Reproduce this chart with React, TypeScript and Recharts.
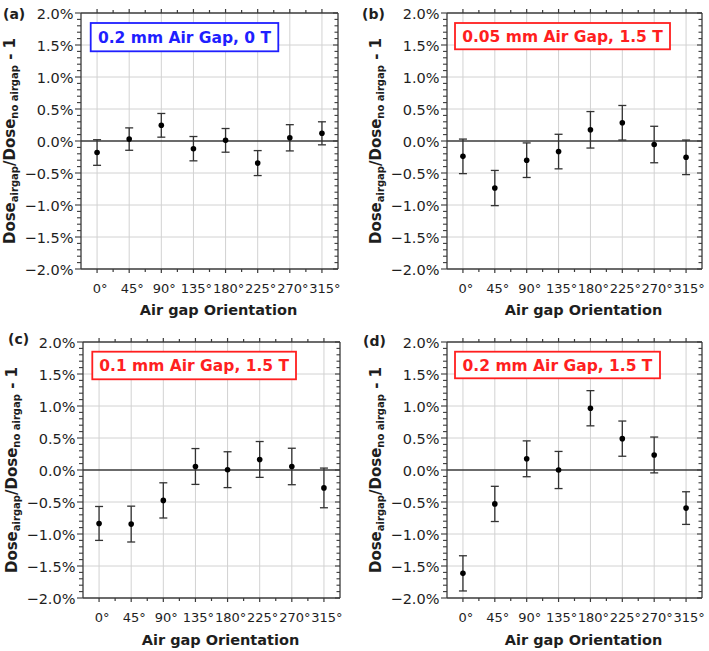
import React from 'react';
import { ComposedChart, XAxis, YAxis, Line, ErrorBar, ReferenceLine } from 'recharts';

// ---------- data ----------
const angles = [0, 45, 90, 135, 180, 225, 270, 315];
const yMajorTicks = [-2, -1.5, -1, -0.5, 0, 0.5, 1, 1.5, 2];

const valuesA = [-0.18, 0.03, 0.245, -0.12, 0.01, -0.345, 0.05, 0.12];
const errorsA = [0.2, 0.175, 0.185, 0.19, 0.185, 0.195, 0.205, 0.18];

const valuesB = [-0.24, -0.735, -0.3, -0.165, 0.175, 0.285, -0.055, -0.255];
const errorsB = [0.27, 0.275, 0.27, 0.27, 0.285, 0.27, 0.285, 0.27];

const valuesC = [-0.835, -0.845, -0.475, 0.055, 0.005, 0.165, 0.055, -0.28];
const errorsC = [0.265, 0.28, 0.275, 0.28, 0.28, 0.28, 0.285, 0.31];

const valuesD = [-1.615, -0.53, 0.175, 0.0, 0.965, 0.49, 0.235, -0.595];
const errorsD = [0.275, 0.275, 0.28, 0.29, 0.275, 0.275, 0.28, 0.255];

const boxTexts = ['0.2 mm Air Gap, 0 T', '0.05 mm Air Gap, 1.5 T', '0.1 mm Air Gap, 1.5 T', '0.2 mm Air Gap, 1.5 T'];
const panelLabels = ['(a)', '(b)', '(c)', '(d)'];
const xTitle = 'Air gap Orientation';

// ---------- style ----------
const FONT = '"DejaVu Sans", Verdana, sans-serif';
const AX = '#3a3a3a';
const GRID = '#d2d2d2';
const TXT = '#1e1e1e';
const BLUE = '#1f1fff';
const RED = '#ff1f1f';

const xMinor = angles.slice(1).map((a) => a - 22.5);
const xTicks = [...angles, ...xMinor].sort((a, b) => a - b);
const yTicks = Array.from({ length: 41 }, (_, i) => (i - 20) / 10);
const isMajorY = (v: number) => Math.abs(v * 2 - Math.round(v * 2)) < 1e-9;
const fmtY = (v: number) => (v < 0 ? '\u2212' : '') + Math.abs(v).toFixed(1) + '%';

const BottomTick = (p: any) => {
  const { x, y, payload } = p;
  const v = payload.value;
  const major = v % 45 === 0;
  return (
    <g>
      <line x1={x} x2={x} y1={y} y2={y + (major ? 4 : 3)} stroke={AX} strokeWidth={1.2} />
      {major && (
        <text x={x + 3} y={y + 23.5} textAnchor="middle" fontSize={13} fontFamily={FONT} fill={TXT}>
          {v}°
        </text>
      )}
    </g>
  );
};

const TopTick = (p: any) => {
  const { x, y, payload } = p;
  const major = payload.value % 45 === 0;
  return <line x1={x} x2={x} y1={y} y2={y - (major ? 4 : 3)} stroke={AX} strokeWidth={1.2} />;
};

const LeftTick = (p: any) => {
  const { x, y, payload } = p;
  const v = payload.value;
  const major = isMajorY(v);
  return (
    <g>
      <line x1={x} x2={x - (major ? 6 : 4)} y1={y} y2={y} stroke={AX} strokeWidth={1.1} />
      {major && (
        <text x={x - 7.5} y={y + 5.5} textAnchor="end" fontSize={14.5} fontFamily={FONT} fill={TXT}>
          {fmtY(v)}
        </text>
      )}
    </g>
  );
};

const RightTick = (p: any) => {
  const { x, y, payload } = p;
  const major = isMajorY(payload.value);
  return <line x1={x} x2={x - (major ? 5 : 3.5)} y1={y} y2={y} stroke={AX} strokeWidth={1.1} />;
};

type PanelCfg = {
  L: number; T: number; R: number; B: number;
  values: number[]; errors: number[];
  color: string; box: [number, number, number, number];
  labelX: number; labelY: number; titleY: number;
};

const panels: PanelCfg[] = [
  { L: 81, T: 13, R: 338, B: 269, values: valuesA, errors: errorsA, color: BLUE, box: [90.7, 23, 278.3, 51.3], labelX: 3, labelY: 18.5, titleY: 314.5 },
  { L: 447, T: 13, R: 702, B: 269, values: valuesB, errors: errorsB, color: RED, box: [455, 23, 670, 49.3], labelX: 362, labelY: 18.5, titleY: 314.5 },
  { L: 83, T: 342, R: 340, B: 598, values: valuesC, errors: errorsC, color: RED, box: [92.3, 351.7, 296, 379.3], labelX: 8, labelY: 344, titleY: 645 },
  { L: 447, T: 342, R: 702, B: 598, values: valuesD, errors: errorsD, color: RED, box: [455, 351.7, 660, 378.3], labelX: 363, labelY: 346, titleY: 645 },
];

function Panel({ cfg }: { cfg: PanelCfg }) {
  const ml = 80, mt = 14, mr = 6, mb = 50;
  const A = 1; // axis thickness reserved by each axis
  const data = angles.map((a, i) => ({ angle: a, v: cfg.values[i], e: cfg.errors[i] }));
  const axisLine = { stroke: AX, strokeWidth: 1.3 };
  return (
    <div style={{ position: 'absolute', left: cfg.L - ml, top: cfg.T - mt }}>
      <ComposedChart
        width={cfg.R - cfg.L + ml + mr}
        height={cfg.B - cfg.T + mt + mb}
        data={data}
        margin={{ left: ml - A, top: mt - A, right: mr - A, bottom: mb - A }}
      >
        <XAxis xAxisId="b" type="number" dataKey="angle" domain={[-22.5, 337.5]} allowDataOverflow ticks={xTicks} interval={0}
          height={A} tickSize={0} tickMargin={0} tickLine={false} tick={<BottomTick />} axisLine={axisLine} />
        <XAxis xAxisId="t" orientation="top" type="number" dataKey="angle" domain={[-22.5, 337.5]} allowDataOverflow ticks={xTicks} interval={0}
          height={A} tickSize={0} tickMargin={0} tickLine={false} tick={<TopTick />} axisLine={axisLine} />
        <YAxis yAxisId="l" type="number" domain={[-2, 2]} allowDataOverflow ticks={yTicks} interval={0}
          width={A} tickSize={0} tickMargin={0} tickLine={false} tick={<LeftTick />} axisLine={axisLine} />
        <YAxis yAxisId="r" orientation="right" type="number" domain={[-2, 2]} allowDataOverflow ticks={yTicks} interval={0}
          width={A} tickSize={0} tickMargin={0} tickLine={false} tick={<RightTick />} axisLine={axisLine} />
        {angles.map((a) => (
          <ReferenceLine key={'gx' + a} xAxisId="b" yAxisId="l" x={a} stroke={GRID} strokeWidth={1} />
        ))}
        {yMajorTicks.filter((v) => v !== 0 && Math.abs(v) !== 2).map((v) => (
          <ReferenceLine key={'gy' + v} xAxisId="b" yAxisId="l" y={v} stroke={GRID} strokeWidth={1} />
        ))}
        <ReferenceLine xAxisId="b" yAxisId="l" y={0} stroke={AX} strokeWidth={1.3} />
        <Line xAxisId="b" yAxisId="l" dataKey="v" stroke="none" isAnimationActive={false} activeDot={false}
          dot={{ r: 2.8, fill: '#000', stroke: 'none' }}>
          <ErrorBar dataKey="e" width={4} stroke="#333" strokeWidth={1.3} direction="y" isAnimationActive={false} />
        </Line>
      </ComposedChart>
    </div>
  );
}

function Overlay() {
  return (
    <svg width={709} height={651} style={{ position: 'absolute', left: 0, top: 0, pointerEvents: 'none' }}>
      {panels.map((p, i) => {
        const cy = (p.T + p.B) / 2;
        const [bx1, by1, bx2, by2] = p.box;
        return (
          <g key={i} fontFamily={FONT}>
            <text x={p.labelX} y={p.labelY} fontSize={14} fontWeight="bold" fill={TXT}>{panelLabels[i]}</text>
            <text x={(p.L + p.R) / 2 + 9} y={p.titleY} fontSize={14.5} fontWeight="bold" fill={TXT} textAnchor="middle">{xTitle}</text>
            <text transform={`translate(${p.L - 66},${cy}) rotate(-90)`} textAnchor="middle" fontSize={15} fontWeight="bold" fill={TXT}>
              Dose<tspan fontSize={10} dy={3}>airgap</tspan><tspan dy={-3}>/Dose</tspan><tspan fontSize={10} dy={3}>no airgap</tspan><tspan dy={-3}> - 1</tspan>
            </text>
            <rect x={bx1} y={by1} width={bx2 - bx1} height={by2 - by1} fill="#fff" stroke={p.color} strokeWidth={1.8} />
            <text x={(bx1 + bx2) / 2} y={(by1 + by2) / 2 + 5.6} textAnchor="middle" fontSize={15.5} fontWeight="bold" fill={p.color}>
              {boxTexts[i]}
            </text>
          </g>
        );
      })}
    </svg>
  );
}

export default function App() {
  return (
    <div style={{ position: 'absolute', left: 0, top: 0, width: 709, height: 651, overflow: 'hidden', background: '#fff' }}>
      {panels.map((p, i) => (
        <Panel key={i} cfg={p} />
      ))}
      <Overlay />
    </div>
  );
}
